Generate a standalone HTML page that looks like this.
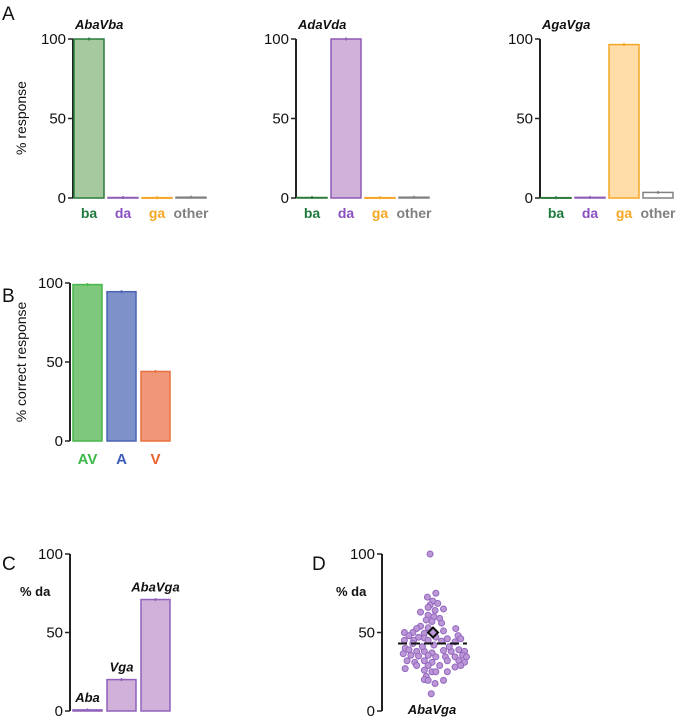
<!DOCTYPE html>
<html><head><meta charset="utf-8"><style>
body{margin:0;background:#fff}
svg{display:block;font-family:"Liberation Sans",sans-serif}
</style></head><body>
<svg id="s" width="682" height="720"></svg>
<script>
const aCats=['ba','da','ga','other'];
const aTitles=['AbaVba','AdaVda','AgaVga'];
const aVals=[[100,0.3,0.2,0.5],[0.3,100,0.2,0.5],[0.2,0.4,96.5,3.5]];
const bCats=['AV','A','V'];
const bVals=[99,94.5,44];
const cCats=['Aba','Vga','AbaVga'];
const cVals=[0.7,20,71];
const dVals=[100,75,72.5,70,68.5,67.5,65,66,64,63,61,60,59,58,57,56,54,53,52.5,50,50,49.5,51,52.5,48,47,46.5,47,46,48,46,45,45,45,44.5,44,40,39,38,38,37,38.5,38,39,38,36.5,35.5,35,35.5,34.5,34.5,34.5,35.5,34.5,32,31,32,31,32,32,31,27,29,29,29,28,29,26,25,25,25,22,20,19.5,17.5,19.5,11,43,41,42,41];
const dJit=[305,320,298,312,325,305,340,300,318,280,300,315,330,295,310,335,280,300,270,260,238,290,340,372,250,275,290,320,350,378,385,238,262,300,335,370,240,250,270,290,310,340,360,380,395,235,255,275,300,320,345,370,390,400,245,265,290,310,350,380,395,240,270,300,330,370,385,290,310,320,350,295,290,300,318,340,308,260,285,315,355];
const dMedian=43, dMean=50;
const NS='http://www.w3.org/2000/svg';
const s=document.getElementById('s');
function el(t,a,txt,name){const e=document.createElementNS(NS,t);for(const k in a)e.setAttribute(k,a[k]);if(txt!==undefined)e.textContent=txt;


s.appendChild(e);return e;}
function axis(x,y100,y0,name){const y=v=>y0-(y0-y100)*v/100;
el('line',{x1:x,y1:y100,x2:x,y2:y0,stroke:'#222','stroke-width':2},undefined,name+'-y-axis');
[0,50,100].forEach(t=>{el('line',{x1:x-5,y1:y(t),x2:x,y2:y(t),stroke:'#222','stroke-width':1.5},undefined,name+'-tick');
el('text',{x:x-7,y:y(t)+5,'text-anchor':'end','font-size':15,fill:'#111'},t,name+'-tick-label');});return y;}
function bar(x,w,v,y,fill,stroke,name){const top=y(v),base=y(0);
el('rect',{x:x,y:top,width:w,height:Math.max(base-top,0.5),fill:fill,stroke:stroke,'stroke-width':1.5},undefined,name);
el('line',{x1:x+w/2,y1:top-1.5,x2:x+w/2,y2:top+1.5,stroke:stroke,'stroke-width':1.5},undefined,name+'-error');}
// Panel A
el('text',{x:2,y:20,'font-size':19,fill:'#111'},'A','panel-a-label');
const aFill=['#a6c9a0','#cfb1d9','#ffdca8','#ffffff'],aStroke=['#2a7a3a','#8e5bb5','#f5a623','#808080'],aText=['#1e7a3c','#8a4fc0','#f5a623','#808080'];
const axX=[73,296,540];
aVals.forEach((vals,p)=>{const ax=axX[p];const y=axis(ax,39,198,'panel-a'+(p+1));
el('text',{x:ax+2,y:29,'font-size':13,'font-weight':'bold','font-style':'italic',fill:'#111'},aTitles[p],'panel-a'+(p+1)+'-title');
vals.forEach((v,i)=>{const bx=ax+1+i*34;bar(bx,30,v,y,aFill[i],aStroke[i],'bar-'+aCats[i]);
el('text',{x:bx+15,y:218,'text-anchor':'middle','font-size':14,'font-weight':'bold',fill:aText[i]},aCats[i],'x-label-'+aCats[i]);});});
el('text',{x:0,y:0,'font-size':14,fill:'#111',transform:'translate(26,118) rotate(-90)','text-anchor':'middle'},'% response','panel-a-y-title');
// Panel B
el('text',{x:2,y:302,'font-size':19,fill:'#111'},'B','panel-b-label');
const yb=axis(70,283,441,'panel-b');
const bFill=['#7ec87e','#7f91c9','#f0977a'],bStroke=['#49b749','#4a63b5','#e8703f'],bText=['#3cb84a','#3d5bb8','#e8602a'];
bVals.forEach((v,i)=>{const bx=73+i*34;bar(bx,29,v,yb,bFill[i],bStroke[i],'bar-'+bCats[i]);
el('text',{x:bx+14.5,y:464,'text-anchor':'middle','font-size':15,'font-weight':'bold',fill:bText[i]},bCats[i],'x-label-'+bCats[i]);});
el('text',{x:0,y:0,'font-size':14,fill:'#111',transform:'translate(26,362) rotate(-90)','text-anchor':'middle'},'% correct response','panel-b-y-title');
// Panel C
el('text',{x:2,y:570,'font-size':19,fill:'#111'},'C','panel-c-label');
const yc=axis(70,554,711,'panel-c');
el('text',{x:20,y:596,'font-size':13,'font-weight':'bold',fill:'#111'},'% da','panel-c-y-title');
cVals.forEach((v,i)=>{const bx=73+i*34;bar(bx,29,v,yc,'#cfb1d9','#9060bb','bar-'+cCats[i]);
el('text',{x:bx+14.5,y:yc(v)-8,'text-anchor':'middle','font-size':13,'font-weight':'bold','font-style':'italic',fill:'#111'},cCats[i],'bar-label-'+cCats[i]);});
// Panel D
el('text',{x:312,y:570,'font-size':19,fill:'#111'},'D','panel-d-label');
const yd=axis(382,554,711,'panel-d');
el('text',{x:336,y:596,'font-size':13,'font-weight':'bold',fill:'#111'},'% da','panel-d-y-title');
dVals.forEach((v,i)=>{el('circle',{cx:432+(dJit[i]-310)/3*1.15,cy:yd(v),r:3,fill:'#bb97d6',stroke:'#9467c0','stroke-width':1},undefined,'data-point');});
el('line',{x1:398,y1:yd(dMedian),x2:467,y2:yd(dMedian),stroke:'#111','stroke-width':2,'stroke-dasharray':'9,4'},undefined,'median-line');
const my=yd(dMean);
el('path',{d:`M433 ${my-5} L438 ${my} L433 ${my+5} L428 ${my} Z`,fill:'#bb97d6',stroke:'#111','stroke-width':2},undefined,'mean-diamond');
el('text',{x:432,y:714,'text-anchor':'middle','font-size':13,'font-weight':'bold','font-style':'italic',fill:'#111'},'AbaVga','panel-d-x-label');
</script>
</body></html>
